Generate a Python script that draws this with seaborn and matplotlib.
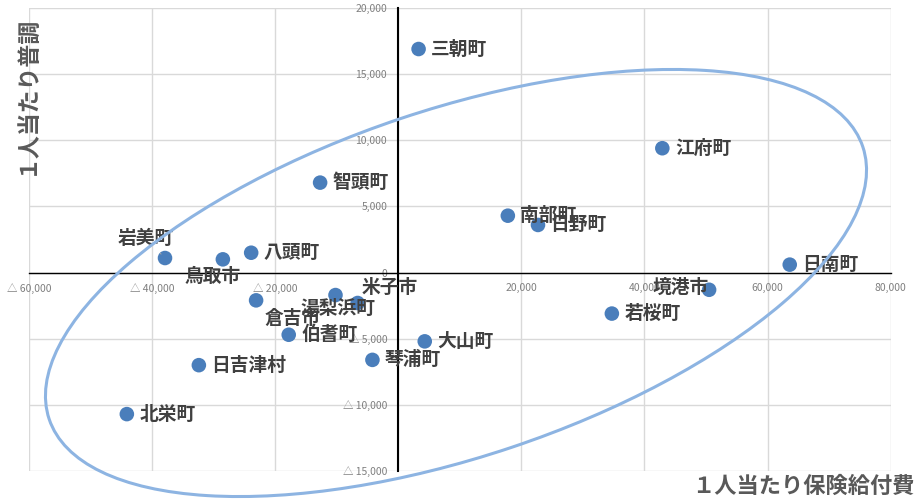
# -*- coding: utf-8 -*-
# Grafico de dispersion: 1人当たり保険給付費 vs 1人当たり普調

import numpy as np
import pandas as pd
import matplotlib.pyplot as plt
import seaborn as sns
from matplotlib.patches import Ellipse
from matplotlib.ticker import FuncFormatter

#%%
# Datos
municipios = ['三朝町', '江府町', '智頭町', '南部町', '日野町', '日南町', '境港市',
              '若桜町', '大山町', '琴浦町', '米子市', '湯梨浜町', '倉吉市', '伯耆町',
              '日吉津村', '北栄町', '岩美町', '鳥取市', '八頭町']
hoken = [3300, 42900, -12700, 17800, 22700, 63600, 50500, 34700, 4300, -4200,
         -6600, -10200, -23100, -17800, -32400, -44100, -37900, -28500, -23900]
futsu = [16900, 9400, 6800, 4300, 3600, 600, -1300, -3100, -5200, -6600,
         -2300, -1700, -2100, -4700, -7000, -10700, 1100, 1000, 1500]

x_ticks = [-60000, -40000, -20000, 0, 20000, 40000, 60000, 80000]
y_ticks = [-15000, -10000, -5000, 0, 5000, 10000, 15000, 20000]

df = pd.DataFrame({'municipio': municipios, 'hoken': hoken, 'futsu': futsu})

#%%
sns.set_theme(style='white')
plt.rcParams['font.family'] = ['Noto Sans CJK JP', 'DejaVu Sans']

fig = plt.figure(figsize=(9.17, 5.04), dpi=100)
ax = fig.add_axes([0.0316, 0.0655, 0.9397, 0.9186])

sns.scatterplot(data=df, x='hoken', y='futsu', ax=ax, color='#4A7EBB',
                s=110, edgecolor='none', zorder=3, legend=False)

ax.set_xlim(x_ticks[0], x_ticks[-1])
ax.set_ylim(y_ticks[0], y_ticks[-1])
ax.set_xticks(x_ticks)
ax.set_yticks(y_ticks)

# Formato: negativos con △
def fmt(v, pos=None):
    if v < 0:
        return '△ {:,.0f}'.format(-v)
    return '{:,.0f}'.format(v)

ax.xaxis.set_major_formatter(FuncFormatter(lambda v, p: '' if v == 0 else fmt(v)))
ax.yaxis.set_major_formatter(FuncFormatter(fmt))
ax.tick_params(axis='both', length=0, labelsize=7.5, labelcolor='#7F7F7F')
ax.tick_params(axis='x', pad=7.5)
ax.tick_params(axis='y', pad=8)

# Ejes cruzando en el origen
ax.spines['left'].set_position(('data', 0))
ax.spines['bottom'].set_position(('data', 0))
ax.spines['left'].set_color('black')
ax.spines['bottom'].set_color('black')
ax.spines['left'].set_linewidth(1.5)
ax.spines['bottom'].set_linewidth(1.0)
ax.spines['left'].set_zorder(2.5)
ax.spines['bottom'].set_zorder(2.5)
ax.spines['top'].set_visible(False)
ax.spines['right'].set_visible(False)

ax.grid(True, color='#D9D9D9', linewidth=1.0)
ax.set_axisbelow(True)
ax.set_xlabel('')
ax.set_ylabel('')

# Etiquetas de datos (desplazamiento en puntos)
offsets = {
    '岩美町': (-14, 14, 'center'),
    '鳥取市': (-7.5, -12.5, 'center'),
    '米子市': (3, 11.5, 'left'),
    '湯梨浜町': (2, -10, 'center'),
    '倉吉市': (26, -13, 'center'),
    '境港市': (0, 2, 'right'),
}
for m, xv, yv in zip(municipios, hoken, futsu):
    dx, dy, ha = offsets.get(m, (9, 0, 'left'))
    props = None
    if m == '岩美町':
        props = dict(arrowstyle='-', color='#A6A6A6', lw=0.7, shrinkA=2, shrinkB=4)
    ax.annotate(m, (xv, yv), xytext=(dx, dy), textcoords='offset points',
                ha=ha, va='center', fontsize=13.5, fontweight='bold',
                color='#404040', zorder=4, arrowprops=props)

# Titulos de ejes
fig.text(0.997, 0.035, '１人当たり保険給付費', ha='right', va='center',
         fontsize=16, fontweight='bold', color='#595959')
fig.text(0.029, 0.97, '１人当たり普調', ha='center', va='top', rotation=90,
         fontsize=16.5, fontweight='bold', color='#595959')

# Elipse (forma dibujada sobre el grafico, en pulgadas)
elipse = Ellipse((4.56, 2.21), 8.58, 3.47, angle=18.5, transform=fig.dpi_scale_trans,
                 fill=False, edgecolor='#8DB4E2', linewidth=2.2, zorder=5)
fig.add_artist(elipse)

fig.savefig('out.png', dpi=100)
